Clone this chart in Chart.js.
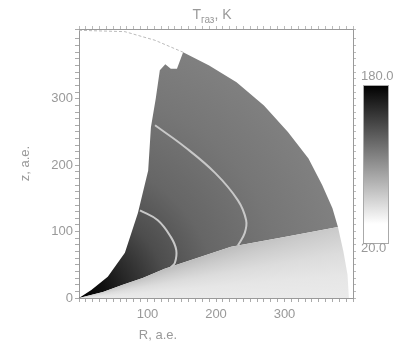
<!DOCTYPE html>
<html lang="ru">
<head>
  <meta charset="UTF-8" />
  <title>T газ, K</title>
  <script src="https://cdn.jsdelivr.net/npm/chart.js"></script>
  <style>
    html, body { margin: 0; padding: 0; background: #fff; }
    #wrap { width: 411px; height: 343px; }
  </style>
</head>
<body>
  <div id="wrap"><canvas id="tgas" width="411" height="343"></canvas></div>

  <script>
    // границы области, а.е.
    const cavityX = [0, 18, 42, 67, 86, 101, 105, 112, 118, 126, 134, 143, 152];
    const cavityY = [0, 12, 32, 68, 128, 192, 257, 300, 343, 352, 345, 345, 370];
    const arcX = [152, 190, 230, 270, 305, 335, 355, 370, 378, 386, 392, 394];
    const arcY = [370, 350, 325, 290, 250, 210, 170, 135, 107, 70, 35, 0];
    const surfaceX = [0, 35, 64, 93, 125, 222, 300, 378];
    const surfaceY = [0, 9, 20, 30, 44, 77, 92, 107];
    const gridEdgeX = [0, 67, 111, 152];
    const gridEdgeY = [403, 401, 388, 370];

    // изолинии
    const contour1X = [89, 115, 134, 142, 140, 134];
    const contour1Y = [132, 117, 92, 72, 53, 46];
    const contour2X = [111, 155, 199, 232, 244, 242, 232];
    const contour2Y = [260, 227, 188, 147, 117, 98, 79];

    // температура в ветре (по радиусу) и в диске (по углу)
    const windR = [0, 40, 70, 130, 200, 300, 400];
    const windT = [180, 170, 156, 132, 116, 106, 99];
    const diskA = [0, 5, 10, 15, 20, 25];
    const diskT = [33, 36, 42, 52, 63, 72];

    const cbarMin = 20, cbarMax = 180;
    const cbarLabels = ['180.0', '20.0'];

    const pts = (xs, ys) => xs.map((x, i) => ({ x, y: ys[i] }));
    const nArc = arcX.indexOf(surfaceX[surfaceX.length - 1]);

    const windPoly = pts(cavityX, cavityY)
      .concat(pts(arcX.slice(0, nArc + 1), arcY.slice(0, nArc + 1)))
      .concat(pts(surfaceX, surfaceY).reverse());
    const diskPoly = pts(surfaceX, surfaceY)
      .concat(pts(arcX.slice(nArc), arcY.slice(nArc)))
      .concat([{ x: 0, y: 0 }]);

    function grayFor(t) {
      let c = Math.round(255 * (cbarMax - t) / (cbarMax - cbarMin));
      c = Math.max(0, Math.min(255, c));
      return `rgb(${c},${c},${c})`;
    }

    function windFill(context) {
      const chart = context.chart;
      if (!chart.chartArea) return grayFor(110);
      const sx = chart.scales.x, sy = chart.scales.y;
      const x0 = sx.getPixelForValue(0), y0 = sy.getPixelForValue(0);
      const rMax = windR[windR.length - 1];
      const rpx = sx.getPixelForValue(rMax) - x0;
      const g = chart.ctx.createRadialGradient(x0, y0, 0, x0, y0, rpx);
      windR.forEach((r, i) => g.addColorStop(r / rMax, grayFor(windT[i])));
      return g;
    }

    function diskFill(context) {
      const chart = context.chart;
      if (!chart.chartArea) return grayFor(40);
      const sx = chart.scales.x, sy = chart.scales.y;
      const x0 = sx.getPixelForValue(0), y0 = sy.getPixelForValue(0);
      // углы в пикселях
      const pixA = diskA.map(a => {
        const r = a * Math.PI / 180;
        const px = sx.getPixelForValue(100 * Math.cos(r)) - x0;
        const py = y0 - sy.getPixelForValue(100 * Math.sin(r));
        return Math.atan2(py, px);
      });
      const maxA = pixA[pixA.length - 1];
      const g = chart.ctx.createConicGradient(-maxA, x0, y0);
      for (let i = diskA.length - 1; i >= 0; i--) {
        g.addColorStop((maxA - pixA[i]) / (2 * Math.PI), grayFor(diskT[i]));
      }
      g.addColorStop(0.5, grayFor(diskT[0]));
      g.addColorStop(1, grayFor(diskT[diskT.length - 1]));
      return g;
    }

    const decor = {
      id: 'decor',
      afterDraw(chart) {
        const { ctx, chartArea: a } = chart;
        ctx.save();

        // шкала цвета
        const left = a.right + 10, w = 25, top = a.top + 56, bot = a.bottom - 55;
        const g = ctx.createLinearGradient(0, top, 0, bot);
        g.addColorStop(0, grayFor(cbarMax));
        g.addColorStop(0.88, grayFor(cbarMin));
        g.addColorStop(1, grayFor(cbarMin));
        ctx.fillStyle = g;
        ctx.fillRect(left, top, w, bot - top);
        ctx.strokeStyle = '#aaa';
        ctx.lineWidth = 1;
        ctx.strokeRect(left + 0.5, top + 0.5, w, bot - top);

        ctx.fillStyle = '#999';
        ctx.font = '13px "Liberation Sans", Arial, sans-serif';
        ctx.textAlign = 'left';
        ctx.textBaseline = 'middle';
        ctx.fillText(cbarLabels[0], left - 2, top - 9);
        ctx.fillText(cbarLabels[1], left - 2, bot + 5);

        // заголовок
        ctx.textBaseline = 'alphabetic';
        const big = '14px "Liberation Sans", Arial, sans-serif';
        const small = '10px "Liberation Sans", Arial, sans-serif';
        ctx.font = big;
        const wT = ctx.measureText('T').width, wK = ctx.measureText(', K').width;
        ctx.font = small;
        const wS = ctx.measureText('газ').width;
        let x = 212 - (wT + wS + wK) / 2;
        ctx.font = big;
        ctx.fillText('T', x, 19);
        x += wT;
        ctx.font = small;
        ctx.fillText('газ', x, 23);
        x += wS;
        ctx.font = big;
        ctx.fillText(', K', x, 19);

        // подпись оси R
        ctx.font = '13px "Liberation Sans", Arial, sans-serif';
        ctx.textAlign = 'center';
        ctx.fillText('R, а.е.', 158, 339);
        ctx.restore();
      }
    };

    const tickFont = { family: '"Liberation Sans", Arial, sans-serif', size: 13 };
    const boxAxis = (pos, id) => ({
      type: 'linear', position: pos, min: 0, max: id.startsWith('x') ? 400 : 405,
      ticks: { display: false, stepSize: 10, autoSkip: false },
      grid: { drawOnChartArea: false, tickLength: 3, color: '#bbb' },
      border: { color: '#999' },
      afterFit: s => { if (pos === 'top') s.height = 0; else s.width = 0; }
    });

    new Chart(document.getElementById('tgas'), {
      type: 'scatter',
      data: {
        datasets: [
          {
            data: windPoly, showLine: true, fill: 'shape', pointRadius: 0,
            borderWidth: 0, borderColor: 'rgba(0,0,0,0)', backgroundColor: windFill, order: 5
          },
          {
            data: diskPoly, showLine: true, fill: 'shape', pointRadius: 0,
            borderWidth: 0, borderColor: 'rgba(0,0,0,0)', backgroundColor: diskFill, order: 4
          },
          {
            data: pts(contour1X, contour1Y), showLine: true, pointRadius: 0,
            borderColor: '#c8c8c8', borderWidth: 2, tension: 0.4, order: 1
          },
          {
            data: pts(contour2X, contour2Y), showLine: true, pointRadius: 0,
            borderColor: '#c8c8c8', borderWidth: 2, tension: 0.4, order: 1
          },
          {
            data: pts(gridEdgeX, gridEdgeY), showLine: true, pointRadius: 0,
            borderColor: '#bbb', borderWidth: 1, borderDash: [3, 2], order: 1
          }
        ]
      },
      options: {
        responsive: false,
        animation: false,
        layout: { padding: { top: 29, right: 58, left: 0, bottom: 0 } },
        plugins: {
          legend: { display: false },
          tooltip: { enabled: false },
          title: { display: false }
        },
        scales: {
          x: {
            type: 'linear', min: 0, max: 400,
            ticks: {
              stepSize: 10, autoSkip: false, maxRotation: 0, padding: 5,
              color: '#999', font: tickFont,
              callback: v => (v % 100 === 0 && v > 0 && v < 400) ? String(v) : ''
            },
            grid: { drawOnChartArea: false, tickLength: 4, color: '#aaa' },
            border: { color: '#999' },
            afterFit: s => { s.height = 45; }
          },
          y: {
            type: 'linear', min: 0, max: 405,
            ticks: {
              stepSize: 10, autoSkip: false, padding: 2,
              color: '#999', font: tickFont,
              callback: v => (v % 100 === 0 && v < 400) ? String(v) : ''
            },
            grid: { drawOnChartArea: false, tickLength: 4, color: '#aaa' },
            border: { color: '#999' },
            title: {
              display: true, text: 'z, а.е.', color: '#999',
              font: tickFont, padding: { top: 18, bottom: 0 }
            },
            afterFit: s => { s.width = 79; }
          },
          x2: boxAxis('top', 'x2'),
          y2: boxAxis('right', 'y2')
        }
      },
      plugins: [decor]
    });
  </script>
</body>
</html>
